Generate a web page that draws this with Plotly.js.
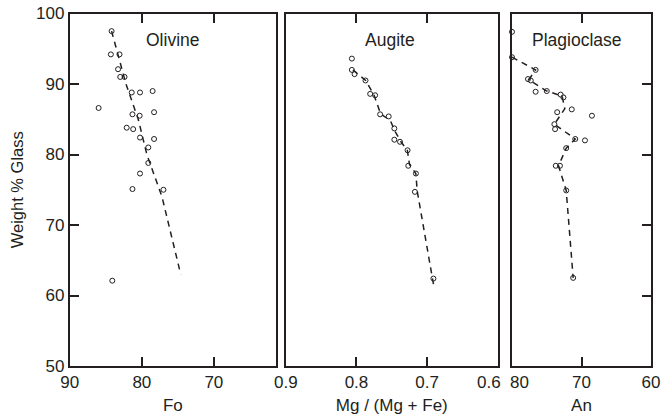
<!DOCTYPE html>
<html>
<head>
<meta charset="utf-8">
<script src="https://cdn.plot.ly/plotly-3.0.1.min.js"></script>
<style>html,body{margin:0;padding:0;background:#fff;}#chart{width:672px;height:420px;}</style>
</head>
<body>
<div id="chart"></div>
<script>
// ---- Data ----
const panelNames = ["Olivine", "Augite", "Plagioclase"];
const axisTitles = ["Fo", "Mg / (Mg + Fe)", "An"];
const yTitle = "Weight % Glass";

const olivineFo    = [84.2, 84.3, 83.1, 83.3, 83.0, 82.4, 81.4, 80.25, 78.5, 86.0, 81.3, 80.3, 78.3, 82.1, 81.2, 80.25, 78.3, 79.1, 79.1, 80.25, 81.3, 77.0, 84.1];
const olivineGlass = [97.5, 94.2, 94.2, 92.1, 91.0, 91.0, 88.8, 88.8, 89.0, 86.6, 85.7, 85.5, 86.0, 83.8, 83.6, 82.4, 82.2, 81.0, 78.8, 77.3, 75.1, 75.0, 62.1];
const olivineTrendFo    = [84.2, 82.2, 80.5, 79.3, 77.2, 74.6];
const olivineTrendGlass = [97.5, 90.0, 85.0, 80.0, 74.0, 63.0];

const augiteMg    = [0.8065, 0.8065, 0.8027, 0.7872, 0.7806, 0.7736, 0.7665, 0.7544, 0.7464, 0.7464, 0.7384, 0.7277, 0.7267, 0.7159, 0.7173, 0.6911];
const augiteGlass = [93.6, 92.0, 91.4, 90.5, 88.6, 88.4, 85.7, 85.4, 83.7, 82.1, 81.8, 80.6, 78.4, 77.3, 74.7, 62.4];
const augiteTrendMg    = [0.805, 0.787, 0.775, 0.766, 0.752, 0.745, 0.737, 0.728, 0.725, 0.716, 0.714, 0.690];
const augiteTrendGlass = [92.0, 90.5, 88.4, 85.8, 84.8, 83.2, 81.8, 80.6, 78.6, 77.3, 74.8, 61.0];

const plagAn    = [80.0, 80.0, 76.6, 77.7, 77.3, 76.6, 75.0, 73.0, 72.6, 73.5, 71.4, 68.5, 73.9, 73.8, 70.9, 69.5, 72.2, 73.7, 73.1, 72.2, 71.2];
const plagGlass = [97.4, 93.8, 92.0, 90.7, 90.5, 88.9, 89.0, 88.5, 88.1, 86.0, 86.4, 85.5, 84.3, 83.6, 82.2, 82.0, 80.9, 78.4, 78.4, 74.9, 62.5];
const plagTrendAn    = [80.0, 76.6, 77.6, 75.0, 72.8, 72.4, 73.9, 70.9, 72.2, 73.3, 72.2, 71.2];
const plagTrendGlass = [93.8, 92.0, 90.6, 89.0, 88.3, 86.5, 84.3, 82.2, 80.9, 78.4, 74.9, 62.5];

const yTicks = [50, 60, 70, 80, 90, 100];
const xTicks1 = [90, 80, 70];
const xTicks2 = [0.9, 0.8, 0.7, 0.6];
const xTicks3 = [80, 70, 60];

// ---- Styling ----
const ink = "#231f20";
const FONT = "Liberation Sans, Arial, Helvetica, sans-serif";
const TS = 17;
const W = 672, H = 420;
const yDom = [(H - 366) / H, (H - 13.5) / H];
const px = (a, b) => [a / W, b / W];

function pts(x, y, xa, ya) {
  return {x, y, xaxis: xa, yaxis: ya, mode: "markers", type: "scatter", cliponaxis: false,
    marker: {symbol: "circle-open", size: 5, color: ink, line: {width: 1, color: ink}}, hoverinfo: "skip"};
}
function trend(x, y, xa, ya) {
  return {x, y, xaxis: xa, yaxis: ya, mode: "lines", type: "scatter",
    line: {color: ink, width: 1.5, dash: "6px,5px"}, hoverinfo: "skip"};
}

const data = [
  trend(olivineTrendFo, olivineTrendGlass, "x", "y"),
  pts(olivineFo, olivineGlass, "x", "y"),
  trend(augiteTrendMg, augiteTrendGlass, "x2", "y2"),
  pts(augiteMg, augiteGlass, "x2", "y2"),
  trend(plagTrendAn, plagTrendGlass, "x3", "y3"),
  pts(plagAn, plagGlass, "x3", "y3")
];

const tf = {family: FONT, size: TS, color: ink};
const xBase = {showline: true, linecolor: ink, linewidth: 2, mirror: "ticks", ticks: "inside", ticklen: 9, tickwidth: 2,
  tickcolor: ink, showgrid: false, zeroline: false, tickfont: tf,
  title: {font: tf, standoff: 8}};
const yBase = {showline: true, linecolor: ink, linewidth: 2, mirror: true, showgrid: false, zeroline: false,
  range: [50, 100], domain: yDom, tickvals: yTicks, ticklen: 9, tickwidth: 2, tickcolor: ink, tickfont: tf};

// edge labels that sit side by side in the reference (0.6 | 80)
const edgeLabels = [
  {text: xTicks2[3].toFixed(1), xref: "x2", x: xTicks2[3], xanchor: "right", xshift: 5},
  {text: String(xTicks3[0]), xref: "x3", x: xTicks3[0], xanchor: "left", xshift: -4}
].map(a => Object.assign({yref: "paper", y: (H - 371) / H, yanchor: "top", showarrow: false, font: tf}, a));

const layout = {
  width: W, height: H, margin: {l: 0, r: 0, t: 0, b: 0},
  paper_bgcolor: "#fff", plot_bgcolor: "#fff", showlegend: false,
  font: {family: FONT, color: ink},
  xaxis:  Object.assign({}, xBase, {domain: px(69.8, 275.8), range: [90, 61.4], tickvals: xTicks1, anchor: "y",
           title: Object.assign({}, xBase.title, {text: axisTitles[0]})}),
  xaxis2: Object.assign({}, xBase, {domain: px(285.8, 497.8), range: [0.9, 0.6], tickvals: xTicks2,
           ticktext: xTicks2.map((v, i) => i === 3 ? "" : v.toFixed(1)), anchor: "y2",
           title: Object.assign({}, xBase.title, {text: axisTitles[1]})}),
  xaxis3: Object.assign({}, xBase, {domain: px(512, 651), range: [80, 60], tickvals: xTicks3,
           ticktext: xTicks3.map((v, i) => i === 0 ? "" : String(v)), anchor: "y3",
           title: Object.assign({}, xBase.title, {text: axisTitles[2]})}),
  yaxis:  Object.assign({}, yBase, {anchor: "x", side: "left", ticks: "inside",
           title: {text: yTitle, font: {family: FONT, size: 16.5, color: ink}, standoff: 8}}),
  yaxis2: Object.assign({}, yBase, {anchor: "x2", ticks: "", showticklabels: false}),
  yaxis3: Object.assign({}, yBase, {anchor: "x3", side: "right", ticks: "inside", showticklabels: false}),
  annotations: [
    {text: panelNames[0], xref: "x domain", yref: "y domain", x: 0.5, y: 0.925, xanchor: "center", yanchor: "middle", showarrow: false, font: {family: FONT, size: 17.5, color: ink}},
    {text: panelNames[1], xref: "x2 domain", yref: "y2 domain", x: 0.49, y: 0.925, xanchor: "center", yanchor: "middle", showarrow: false, font: {family: FONT, size: 17.5, color: ink}},
    {text: panelNames[2], xref: "x3 domain", yref: "y3 domain", x: 0.465, y: 0.925, xanchor: "center", yanchor: "middle", showarrow: false, font: {family: FONT, size: 17.5, color: ink}}
  ].concat(edgeLabels)
};

Plotly.newPlot("chart", data, layout, {staticPlot: true, displayModeBar: false});
</script>
</body>
</html>
